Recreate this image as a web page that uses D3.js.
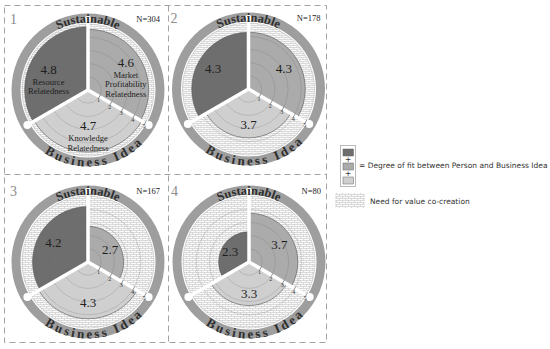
<!DOCTYPE html>
<html>
<head>
<meta charset="utf-8">
<title>Degree of fit between person and business idea</title>
<style>
  body {margin: 0; background: white;}
  .ring-text {font-family: "Liberation Serif", "Times New Roman", serif; font-weight: bold; fill: #2e2e2e;}
  .value {font-family: "Liberation Serif", serif; font-size: 13px; fill: #1e1e1e;}
  .dim {font-family: "Liberation Serif", serif; font-size: 8.6px; fill: #1e1e1e;}
  .tick {font-family: "Liberation Serif", serif; font-size: 6px; fill: #333;}
  .num {font-family: "Liberation Serif", serif; font-size: 14px; fill: #8a8a8a;}
  .n {font-family: "Liberation Serif", serif; font-size: 8.5px; fill: #222;}
  .legend {font-family: "DejaVu Sans", sans-serif; font-size: 7.5px; fill: #333;}
</style>
</head>
<body>
<svg id="chart" width="550" height="349"></svg>
<script src="https://d3js.org/d3.v7.min.js"></script>
<script>
// values per panel (1..4)
var panelNames = ["1", "2", "3", "4"];
var sampleSizes = ["N=304", "N=178", "N=167", "N=80"];
var resource = [4.8, 4.3, 4.2, 2.3];
var market = [4.6, 4.3, 2.7, 3.7];
var knowledge = [4.7, 3.7, 4.3, 3.3];
var dimLabels = [["Resource", "Relatedness"], ["Market", "Profitability", "Relatedness"], ["Knowledge", "Relatedness"]];
var tickValues = [1, 2, 3, 4, 5];
var ringLabels = ["Sustainable", "Business Idea"];
var legendLabels = ["= Degree of fit between Person and Business Idea", "Need for value co-creation"];

var svg = d3.select("#chart");
var colors = ["#6e6e6e", "#ababab", "#cfcfcf"];
var ringColor = "#9e9e9e";
var r = d3.scaleLinear().domain([0, 5]).range([0, 66]);
var ringIn = 67.5, ringOut = 76.5, spokeLen = 70;

// brick-like hatch for "need for value co-creation"
var pat = svg.append("defs").append("pattern")
    .attr("id", "hatch").attr("patternUnits", "userSpaceOnUse")
    .attr("width", 6).attr("height", 4);
pat.append("rect").attr("width", 6).attr("height", 4).attr("fill", "#fafafa");
pat.append("path").attr("d", "M0,0.5H6M0,2.5H6M0.5,0.5V2.5M3.5,2.5V4.5")
    .attr("stroke", "#c6c6c6").attr("stroke-width", 0.6).attr("fill", "none");

// dashed frame
var frame = svg.append("g").attr("stroke", "#a3a3a3").attr("stroke-dasharray", "6,4")
    .attr("fill", "none").attr("stroke-width", 1);
frame.append("rect").attr("x", 4.5).attr("y", 5.5).attr("width", 322).attr("height", 337);
frame.append("line").attr("x1", 168.5).attr("x2", 168.5).attr("y1", 5.5).attr("y2", 342.5);
frame.append("line").attr("x1", 4.5).attr("x2", 326.5).attr("y1", 174.5).attr("y2", 174.5);

// measure glyph widths of the ring font, so letters can be set one by one on the circle
var meas = svg.append("text").attr("class", "ring-text");
function charWidths(s, size) {
    meas.attr("font-size", size);
    return s.split("").map(function(c) {
        meas.text(c === " " ? "\u00a0" : c);
        return meas.node().getComputedTextLength();
    });
}
var topW = charWidths(ringLabels[0], 12.5);
var botW = charWidths(ringLabels[1], 13);
meas.remove();

function ringText(g, str, widths, size, rad, spacing, bottom, shift) {
    var total = d3.sum(widths) + spacing * (widths.length - 1);
    var s = -total / 2 + shift;
    str.split("").forEach(function(c, j) {
        var a = (s + widths[j] / 2) / rad;
        s += widths[j] + spacing;
        if (c === " ") return;
        var x, y, rot;
        if (bottom) { x = rad * Math.sin(a); y = rad * Math.cos(a); rot = -a; }
        else { x = rad * Math.sin(a); y = -rad * Math.cos(a); rot = a; }
        g.append("text").attr("class", "ring-text").attr("font-size", size)
            .attr("text-anchor", "middle")
            .attr("transform", "translate(" + x + "," + y + ") rotate(" + (rot * 180 / Math.PI) + ")")
            .text(c);
    });
}

var cxs = [88, 248.5, 88, 249];
var cys = [90, 89, 262, 262];
var arc = d3.arc().innerRadius(0);
var angles = [[-2 * Math.PI / 3, 0], [0, 2 * Math.PI / 3], [2 * Math.PI / 3, 4 * Math.PI / 3]];
var labelNudge = [2, -6, -9];   // vertical nudge of the first panel's label blocks

panelNames.forEach(function(name, i) {
    var g = svg.append("g").attr("transform", "translate(" + cxs[i] + "," + cys[i] + ")");
    var vals = [resource[i], market[i], knowledge[i]];

    svg.append("text").attr("class", "num").attr("x", cxs[i] - 78).attr("y", cys[i] - 66).text(name);
    svg.append("text").attr("class", "n").attr("x", cxs[i] + 72).attr("y", cys[i] - 68)
        .attr("text-anchor", "end").text(sampleSizes[i]);

    // outer ring
    g.append("path").attr("d", d3.arc().innerRadius(ringIn).outerRadius(ringOut)
        .startAngle(0).endAngle(2 * Math.PI)()).attr("fill", ringColor);
    // hatched background up to 5
    g.append("circle").attr("r", r(5)).attr("fill", "url(#hatch)");

    // sectors
    vals.forEach(function(v, k) {
        g.append("path")
            .attr("d", arc.outerRadius(r(v)).startAngle(angles[k][0]).endAngle(angles[k][1])())
            .attr("fill", colors[k]).attr("stroke", "#555").attr("stroke-width", 0.6);
    });

    // grid circles
    g.selectAll("circle.grid").data(tickValues).enter().append("circle")
        .attr("class", "grid").attr("r", function(d) { return r(d); })
        .attr("fill", "none").attr("stroke", "#6a6a6a").attr("stroke-opacity", 0.4)
        .attr("stroke-width", 0.6);

    // white spokes with end dots
    [0, 2 * Math.PI / 3, 4 * Math.PI / 3].forEach(function(a) {
        var x = Math.sin(a) * spokeLen, y = -Math.cos(a) * spokeLen;
        g.append("line").attr("x1", 0).attr("y1", 0).attr("x2", x).attr("y2", y)
            .attr("stroke", "white").attr("stroke-width", 3.5);
        g.append("circle").attr("cx", x).attr("cy", y).attr("r", 4).attr("fill", "white");
    });

    // ticks on lower-right spoke
    var ta = 2 * Math.PI / 3, ux = Math.sin(ta), uy = -Math.cos(ta);
    tickValues.forEach(function(t) {
        var px = ux * r(t), py = uy * r(t);
        g.append("line").attr("x1", px + uy * 2).attr("y1", py - ux * 2)
            .attr("x2", px - uy * 2).attr("y2", py + ux * 2)
            .attr("stroke", "#444").attr("stroke-width", 0.6);
        g.append("text").attr("class", "tick")
            .attr("x", px - uy * 4 + 1).attr("y", py + ux * 4 + 2)
            .attr("text-anchor", "middle").text(t);
    });

    // ring texts
    ringText(g, ringLabels[0], topW, 12.5, 67.5, 0, false, 0);
    ringText(g, ringLabels[1], botW, 13, 76.5, 2.6, true, 7);

    // value labels
    vals.forEach(function(v, k) {
        var mid = (angles[k][0] + angles[k][1]) / 2;
        var lr = 0.72 * r(v);
        var x = Math.sin(mid) * lr, y = -Math.cos(mid) * lr;
        if (i === 0) y += labelNudge[k];
        g.append("text").attr("class", "value").attr("x", x).attr("y", y + 4.5)
            .attr("text-anchor", "middle").text(v.toFixed(1));
        if (i === 0) {
            dimLabels[k].forEach(function(s, j) {
                g.append("text").attr("class", "dim").attr("x", x).attr("y", y + 15.5 + j * 9.5)
                    .attr("text-anchor", "middle").text(s);
            });
        }
    });
});

// legend
var lg = svg.append("g");
lg.append("rect").attr("x", 340.5).attr("y", 145.5).attr("width", 15).attr("height", 41)
    .attr("fill", "white").attr("stroke", "#aaa").attr("stroke-width", 0.8);
[149, 163, 177].forEach(function(y, k) {
    lg.append("rect").attr("x", 343).attr("y", y).attr("width", 10.5).attr("height", 7)
        .attr("fill", colors[k]).attr("stroke", "#666").attr("stroke-width", 0.5);
});
[159, 173].forEach(function(y) {
    lg.append("text").attr("class", "legend").attr("x", 348.2).attr("y", y + 2.5)
        .attr("text-anchor", "middle").text("+");
});
lg.append("text").attr("class", "legend").attr("x", 359).attr("y", 168).text(legendLabels[0]);
lg.append("rect").attr("x", 335).attr("y", 193).attr("width", 30).attr("height", 15).attr("fill", "url(#hatch)");
lg.append("text").attr("class", "legend").attr("x", 370).attr("y", 203.5).text(legendLabels[1]);
</script>
</body>
</html>
